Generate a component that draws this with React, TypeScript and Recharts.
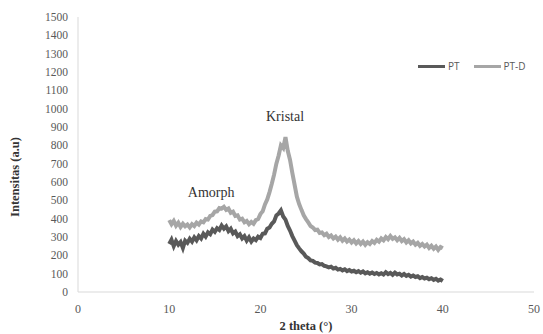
import React from "react"
import {
  LineChart,
  Line,
  XAxis,
  YAxis,
  Label,
  ReferenceDot,
} from "recharts"

// 2 theta sampling (degrees)
const TWO_THETA = [
  10, 10.25, 10.5, 10.75, 11, 11.25, 11.5, 11.75, 12, 12.25, 12.5, 12.75,
  13, 13.25, 13.5, 13.75, 14, 14.25, 14.5, 14.75, 15, 15.25, 15.5, 15.75,
  16, 16.25, 16.5, 16.75, 17, 17.25, 17.5, 17.75, 18, 18.25, 18.5, 18.75,
  19, 19.25, 19.5, 19.75, 20, 20.25, 20.5, 20.75, 21, 21.25, 21.5, 21.75,
  22, 22.25, 22.5, 22.75, 23, 23.25, 23.5, 23.75, 24, 24.25, 24.5, 24.75,
  25, 25.25, 25.5, 25.75, 26, 26.25, 26.5, 26.75, 27, 27.25, 27.5, 27.75,
  28, 28.25, 28.5, 28.75, 29, 29.25, 29.5, 29.75, 30, 30.25, 30.5, 30.75,
  31, 31.25, 31.5, 31.75, 32, 32.25, 32.5, 32.75, 33, 33.25, 33.5, 33.75,
  34, 34.25, 34.5, 34.75, 35, 35.25, 35.5, 35.75, 36, 36.25, 36.5, 36.75,
  37, 37.25, 37.5, 37.75, 38, 38.25, 38.5, 38.75, 39, 39.25, 39.5, 39.75,
  40,
]

const PT = [
  262, 285, 250, 278, 258, 272, 240, 280, 268, 290, 275, 298,
  282, 305, 292, 318, 302, 325, 315, 340, 328, 348, 338, 362,
  345, 358, 332, 345, 320, 330, 305, 315, 292, 305, 280, 298,
  275, 292, 283, 302, 295, 318, 320, 345, 352, 372, 385, 418,
  428, 445, 412, 395, 360, 335, 305, 280, 255, 238, 222, 210,
  192, 185, 172, 170, 160, 158, 150, 152, 143, 140, 134, 138,
  128, 132, 122, 126, 118, 124, 114, 120, 112, 116, 108, 114,
  105, 112, 102, 108, 100, 106, 98, 104, 96, 102, 95, 108,
  98, 104, 94, 106, 96, 100, 90, 98, 88, 94, 84, 90,
  82, 86, 76, 82, 74, 78, 70, 75, 66, 72, 62, 68,
  60,
]

const PT_D = [
  392, 370, 388, 362, 378, 355, 372, 358, 368, 352, 370, 360,
  378, 368, 385, 380, 398, 395, 415, 420, 438, 440, 458, 455,
  465, 448, 455, 432, 438, 415, 418, 395, 400, 380, 388, 370,
  382, 372, 392, 398, 425, 440, 478, 505, 545, 590, 640, 700,
  745, 800, 785, 845, 770, 720, 650, 585, 520, 480, 448, 418,
  398, 380, 360, 352, 338, 340, 322, 325, 310, 318, 300, 308,
  292, 302, 285, 298, 280, 292, 275, 286, 270, 282, 265, 278,
  262, 275, 258, 272, 262, 278, 268, 285, 275, 292, 282, 300,
  288, 305, 290, 298, 282, 295, 278, 288, 270, 282, 265, 275,
  258, 268, 252, 262, 248, 258, 240, 252, 236, 248, 230, 245,
  238,
]

const X_TICKS = [0, 10, 20, 30, 40, 50]
const Y_TICKS = [0, 100, 200, 300, 400, 500, 600, 700, 800, 900, 1000, 1100, 1200, 1300, 1400, 1500]

const SERIES = [
  { key: "pt", name: "PT", color: "#595959" },
  { key: "ptd", name: "PT-D", color: "#a6a6a6" },
]

const data = TWO_THETA.map((x, i) => ({ x, pt: PT[i], ptd: PT_D[i] }))

const serif = "'Liberation Serif', 'Times New Roman', serif"
const sans = "'Open Sans', 'Liberation Sans', Arial, sans-serif"

export default function App() {
  return (
    <div style={{ position: "relative", width: 543, height: 334, background: "#fff" }}>
      <style>{"body{margin:0}"}</style>
      <LineChart
        width={543}
        height={334}
        data={data}
        margin={{ top: 17, right: 9, left: 30, bottom: 12 }}
      >
        <XAxis
          type="number"
          dataKey="x"
          domain={[0, 50]}
          ticks={X_TICKS}
          tickLine={false}
          tickSize={0}
          tickMargin={12}
          axisLine={{ stroke: "#d9d9d9" }}
          tick={{ fontSize: 12, fill: "#595959", fontFamily: serif }}
          height={30}
        >
          <Label
            content={() => (
              <text
                x={306}
                y={327}
                textAnchor="middle"
                dominantBaseline="middle"
                style={{ fontSize: 12.5, fontWeight: "bold", fill: "#333", fontFamily: serif }}
              >
                2 theta (°)
              </text>
            )}
          />
        </XAxis>
        <YAxis
          type="number"
          domain={[0, 1500]}
          ticks={Y_TICKS}
          interval={0}
          tickLine={false}
          tickSize={0}
          tickMargin={10}
          axisLine={{ stroke: "#d9d9d9" }}
          tick={{ fontSize: 11.5, fill: "#595959", fontFamily: serif }}
          width={48}
        >
          <Label
            content={() => (
              <text
                x={16}
                y={177}
                transform="rotate(-90 16 177)"
                textAnchor="middle"
                dominantBaseline="middle"
                style={{ fontSize: 12.5, fontWeight: "bold", fill: "#333", fontFamily: serif }}
              >
                Intensitas (a.u)
              </text>
            )}
          />
        </YAxis>
        {SERIES.map((s) => (
          <Line
            key={s.key}
            type="linear"
            dataKey={s.key}
            name={s.name}
            stroke={s.color}
            strokeWidth={4}
            dot={false}
            isAnimationActive={false}
          />
        ))}
        <ReferenceDot
          x={14.6}
          y={545}
          r={0}
          label={{ value: "Amorph", position: "center", fontSize: 14, fill: "#333", fontFamily: serif }}
        />
        <ReferenceDot
          x={22.7}
          y={960}
          r={0}
          label={{ value: "Kristal", position: "center", fontSize: 14, fill: "#333", fontFamily: serif }}
        />
      </LineChart>
      <div
        style={{
          position: "absolute",
          left: 418,
          top: 59,
          display: "flex",
          alignItems: "center",
          fontFamily: sans,
          fontSize: 10,
          color: "#595959",
        }}
      >
        {SERIES.map((s) => (
          <div key={s.key} style={{ display: "flex", alignItems: "center", marginRight: 14 }}>
            <span style={{ display: "inline-block", width: 27, height: 3, background: s.color, marginRight: 3 }} />
            <span>{s.name}</span>
          </div>
        ))}
      </div>
    </div>
  )
}
